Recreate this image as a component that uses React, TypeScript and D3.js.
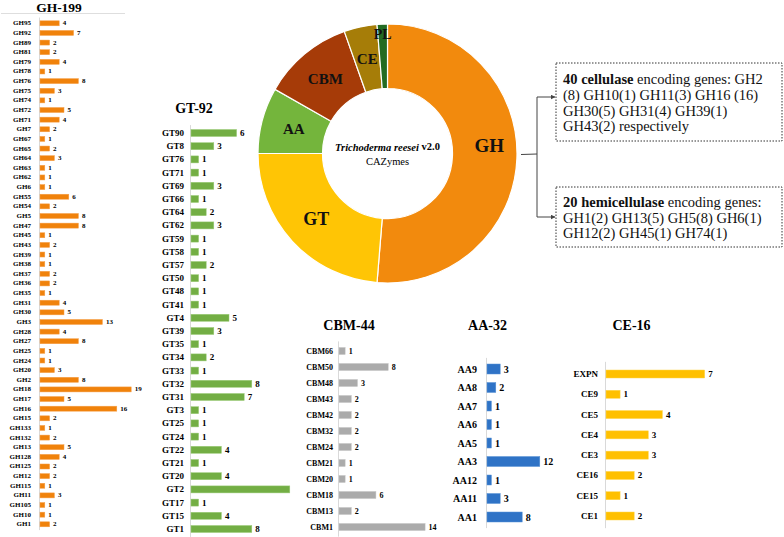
import React from "react";
import * as d3 from "d3";

// CAZyme family counts
const ghFamilies = ["GH95","GH92","GH89","GH81","GH79","GH78","GH76","GH75","GH74","GH72","GH71","GH7","GH67","GH65","GH64","GH63","GH62","GH6","GH55","GH54","GH5","GH47","GH45","GH43","GH39","GH38","GH37","GH36","GH35","GH31","GH30","GH3","GH28","GH27","GH25","GH24","GH20","GH2","GH18","GH17","GH16","GH15","GH133","GH132","GH13","GH128","GH125","GH12","GH115","GH11","GH105","GH10","GH1"];
const ghCounts = [4,7,2,2,4,1,8,3,1,5,4,2,1,2,3,1,1,1,6,2,8,8,1,2,1,1,2,2,1,4,5,13,4,8,1,1,3,8,19,5,16,2,1,2,5,4,2,2,1,3,1,1,2];

const gtFamilies = ["GT90","GT8","GT76","GT71","GT69","GT66","GT64","GT62","GT59","GT58","GT57","GT50","GT48","GT41","GT4","GT39","GT35","GT34","GT33","GT32","GT31","GT3","GT25","GT24","GT22","GT21","GT20","GT2","GT17","GT15","GT1"];
const gtCounts = [6,3,1,1,3,1,2,3,1,1,2,1,1,1,5,3,1,2,1,8,7,1,1,1,4,1,4,13,1,4,8];

const cbmFamilies = ["CBM66","CBM50","CBM48","CBM43","CBM42","CBM32","CBM24","CBM21","CBM20","CBM18","CBM13","CBM1"];
const cbmCounts = [1,8,3,2,2,2,2,1,1,6,2,14];

const aaFamilies = ["AA9","AA8","AA7","AA6","AA5","AA3","AA12","AA11","AA1"];
const aaCounts = [3,2,1,1,1,12,1,3,8];

const ceFamilies = ["EXPN","CE9","CE5","CE4","CE3","CE16","CE15","CE1"];
const ceCounts = [7,1,4,3,3,2,1,2];

const classNames = ["GH","GT","AA","CBM","CE","PL"];
const classCounts = [199,92,32,44,16,5];
const classColors = ["#f28a0d","#ffc505","#74b53c","#a63b08","#a67d08","#236b22"];

const SERIF = "'Liberation Serif', 'Times New Roman', serif";

interface PanelProps {
  title: string;
  titleX: number;
  titleY: number;
  titleSize?: number;
  cats: string[];
  vals: number[];
  axisX: number;
  y0: number;
  y1: number;
  unit: number;
  barH: number;
  labelRight: number;
  fontSize: number;
  color: string;
  stroke: string;
  clipRight?: number;
}

const BarPanel: React.FC<PanelProps> = (p) => {
  const maxV = d3.max(p.vals) ?? 1;
  const x = d3.scaleLinear().domain([0, maxV]).range([p.axisX, p.axisX + maxV * p.unit]);
  const y = d3.scalePoint<string>().domain(p.cats).range([p.y0, p.y1]);
  const step = (p.y1 - p.y0) / (p.cats.length - 1);
  const clipId = "clip-" + p.title;
  return (
    <g>
      {p.clipRight && (
        <defs>
          <clipPath id={clipId}>
            <rect x={0} y={0} width={p.clipRight} height={537} />
          </clipPath>
        </defs>
      )}
      <text x={p.titleX} y={p.titleY} textAnchor="middle" fontWeight="bold" fontSize={p.titleSize ?? 14} fontFamily={SERIF}>
        {p.title}
      </text>
      <line x1={p.axisX} x2={p.axisX} y1={p.y0 - step * 0.6} y2={p.y1 + step * 0.6} stroke="#d9d9d9" strokeWidth={1} />
      <g clipPath={p.clipRight ? `url(#${clipId})` : undefined}>
        {p.cats.map((c, i) => {
          const cy = y(c) ?? 0;
          return (
            <g key={c}>
              <text x={p.labelRight} y={cy} textAnchor="end" dominantBaseline="central" fontWeight="bold" fontSize={p.fontSize} fontFamily={SERIF}>
                {c}
              </text>
              <rect x={x(0) + 0.5} y={cy - p.barH / 2} width={x(p.vals[i]) - x(0)} height={p.barH} fill={p.color} stroke={p.stroke} strokeWidth={0.5} />
              <text x={x(p.vals[i]) + 4} y={cy} dominantBaseline="central" fontWeight="bold" fontSize={p.fontSize} fontFamily={SERIF}>
                {p.vals[i]}
              </text>
            </g>
          );
        })}
      </g>
    </g>
  );
};

const Donut: React.FC = () => {
  const cx = 387.5, cy = 153.5, rIn = 65, rOut = 129.5;
  const data = classNames.map((n, i) => ({ name: n, v: classCounts[i], color: classColors[i] }));
  const pie = d3.pie<{ name: string; v: number; color: string }>().sort(null).value(d => d.v);
  const arcs = pie(data);
  const arc = d3.arc<d3.PieArcDatum<{ name: string; v: number; color: string }>>().innerRadius(rIn).outerRadius(rOut);
  const labelR: Record<string, number> = { GH: 102, GT: 97, AA: 97, CBM: 97, CE: 97, PL: 119 };
  const labelSize: Record<string, number> = { GH: 19, GT: 18, AA: 15, CBM: 15, CE: 15, PL: 14 };
  return (
    <g transform={`translate(${cx},${cy})`}>
      {arcs.map(a => (
        <path key={a.data.name} d={arc(a) ?? ""} fill={a.data.color} stroke="#ffffff" strokeWidth={1.2} />
      ))}
      {arcs.map(a => {
        const ang = (a.startAngle + a.endAngle) / 2 + (a.data.name === "GH" ? -0.12 : 0);
        const r = labelR[a.data.name];
        return (
          <text key={"l" + a.data.name} x={r * Math.sin(ang)} y={-r * Math.cos(ang)} textAnchor="middle" dominantBaseline="central"
            fontWeight="bold" fontSize={labelSize[a.data.name]} fontFamily={SERIF} fill="#111">
            {a.data.name}
          </text>
        );
      })}
      <text x={0} y={-7} textAnchor="middle" dominantBaseline="central" fontSize={10.5} fontFamily={SERIF} fontWeight="bold">
        <tspan fontStyle="italic">Trichoderma reesei</tspan> v2.0
      </text>
      <text x={0} y={8} textAnchor="middle" dominantBaseline="central" fontSize={10.5} fontFamily={SERIF}>
        CAZymes
      </text>
    </g>
  );
};

const App: React.FC = () => {
  const boxText = { fontSize: 14.5, fontFamily: SERIF, fill: "#111" };
  return (
    <svg width={784} height={537} style={{ position: "absolute", left: 0, top: 0, background: "#fff" }}>
      <defs>
        <marker id="arrow" viewBox="0 0 10 10" refX={9} refY={5} markerWidth={5} markerHeight={5} orient="auto">
          <path d="M0,0 L10,5 L0,10 z" fill="#444" />
        </marker>
      </defs>
      <rect width={784} height={537} fill="#fff" />
      <line x1={1} x2={125} y1={13.5} y2={13.5} stroke="#dedede" strokeWidth={1} />

      <BarPanel title="GH-199" titleX={59} titleY={12} titleSize={13.5} cats={ghFamilies} vals={ghCounts} axisX={39.5} y0={23.3} y1={524.3}
        unit={4.8} barH={5} labelRight={31} fontSize={7} color="#f0820b" stroke="#f6a04a" />
      <BarPanel title="GT-92" titleX={194} titleY={113} cats={gtFamilies} vals={gtCounts} axisX={190.5} y0={133} y1={529}
        unit={7.6} barH={7} labelRight={184} fontSize={9} color="#73ae44" stroke="#9ccb78" clipRight={291} />
      <BarPanel title="CBM-44" titleX={349} titleY={330} cats={cbmFamilies} vals={cbmCounts} axisX={338.5} y0={351} y1={527}
        unit={6.15} barH={7} labelRight={333} fontSize={8} color="#ababab" stroke="#c4c4c4" />
      <BarPanel title="AA-32" titleX={487.5} titleY={330} cats={aaFamilies} vals={aaCounts} axisX={486.5} y0={369} y1={517}
        unit={4.4} barH={10} labelRight={477} fontSize={10} color="#2f73c6" stroke="#5a93d6" />
      <BarPanel title="CE-16" titleX={631.5} titleY={330} cats={ceFamilies} vals={ceCounts} axisX={605.5} y0={374} y1={516}
        unit={14.1} barH={8} labelRight={598} fontSize={9} color="#ffc000" stroke="#ffd54f" />

      <Donut />

      {/* connector from GH slice to the two boxes */}
      <g stroke="#444" strokeWidth={1} fill="none">
        <line x1={521} y1={154.5} x2={537} y2={154} />
        <line x1={537} y1={97} x2={537} y2={217} />
        <line x1={537} y1={97} x2={555} y2={97} markerEnd="url(#arrow)" />
        <line x1={537} y1={217} x2={555} y2={217} markerEnd="url(#arrow)" />
      </g>
      <rect x={556} y={63} width={226} height={78} fill="none" stroke="#333" strokeWidth={1} strokeDasharray="1.5,1.5" />
      <text x={563} y={84} {...boxText}>
        <tspan fontWeight="bold">40 cellulase</tspan> encoding genes: GH2
      </text>
      <text x={563} y={100} {...boxText}>(8) GH10(1) GH11(3) GH16 (16)</text>
      <text x={563} y={115.5} {...boxText}>GH30(5) GH31(4) GH39(1)</text>
      <text x={563} y={131} {...boxText}>GH43(2) respectively</text>

      <rect x={556} y={187} width={226} height={60} fill="none" stroke="#333" strokeWidth={1} strokeDasharray="1.5,1.5" />
      <text x={563} y={207} {...boxText}>
        <tspan fontWeight="bold">20 hemicellulase</tspan> encoding genes:
      </text>
      <text x={563} y={222.5} {...boxText}>GH1(2) GH13(5) GH5(8) GH6(1)</text>
      <text x={563} y={238} {...boxText}>GH12(2) GH45(1) GH74(1)</text>
    </svg>
  );
};

export default App;
